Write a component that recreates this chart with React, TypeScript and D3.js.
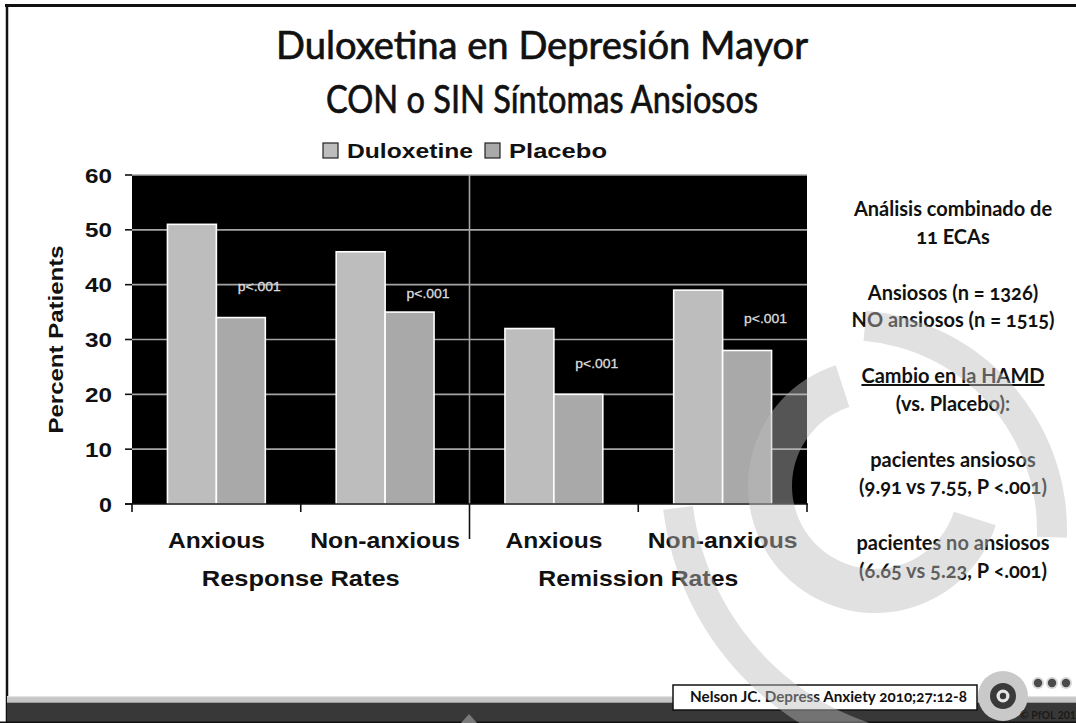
import React from 'react';
import * as d3 from 'd3';

// ---------- data ----------
const categories = ['Anxious', 'Non-anxious', 'Anxious', 'Non-anxious'];
const groupLabels = ['Response Rates', 'Remission Rates'];
const seriesNames = ['Duloxetine', 'Placebo'];
const duloxetine = [51, 46, 32, 39];
const placebo = [34, 35, 20, 28];
const pLabels = ['p<.001', 'p<.001', 'p<.001', 'p<.001'];
const pLabelValue = [38.8, 37.6, 24.8, 33.0];
const yTicks = [0, 10, 20, 30, 40, 50, 60];
const titleLines = ['Duloxetina en Depresión Mayor', 'CON o SIN Síntomas Ansiosos'];
const noteBlocks = [
  ['Análisis combinado de', '11 ECAs'],
  ['Ansiosos (n = 1326)', 'NO ansiosos (n = 1515)'],
  ['Cambio en la HAMD', '(vs. Placebo):'],
  ['pacientes ansiosos', '(9.91 vs 7.55, P <.001)'],
  ['pacientes no ansiosos', '(6.65 vs 5.23, P <.001)'],
];
const citation = 'Nelson JC. Depress Anxiety 2010;27:12-8';
const copyright = '© PfOL 201';

// ---------- styles ----------
const W = 1076;
const H = 723;
const plot = { left: 132, right: 807, top: 175, bottom: 504 };
const fills = ['#bdbdbd', '#a9a9a9'];
const chartFont = '"Liberation Sans", Arial, Helvetica, sans-serif';
const slideFont = 'Lato, "Open Sans", sans-serif';
const rad = (d: number) => (d * Math.PI) / 180;

export default function App() {
  const x = d3
    .scaleBand<number>()
    .domain(d3.range(categories.length))
    .range([plot.left, plot.right]);
  const sub = d3
    .scaleBand<string>()
    .domain(seriesNames)
    .range([0, x.bandwidth()])
    .paddingInner(0)
    .paddingOuter(0.7245);
  const y = d3.scaleLinear().domain([0, 60]).range([plot.bottom, plot.top]);
  const series = [duloxetine, placebo];

  const arcGen = d3.arc<any>();
  const innerC = arcGen({ innerRadius: 83, outerRadius: 127, startAngle: rad(108), endAngle: rad(342) }) as string;
  const outerA = arcGen({ innerRadius: 190, outerRadius: 220, startAngle: rad(5), endAngle: rad(92) }) as string;
  const outerB = arcGen({ innerRadius: 263, outerRadius: 293, startAngle: rad(185), endAngle: rad(263) }) as string;

  const boundaries = d3.range(categories.length + 1).map((i) =>
    i < categories.length ? (x(i) as number) : plot.right
  );
  const mid = boundaries[2];
  const pX = (i: number) => (x(i) as number) + (sub('Placebo') as number) + sub.bandwidth() - 6;

  return (
    <svg
      width={W}
      height={H}
      viewBox={`0 0 ${W} ${H}`}
      style={{ position: 'absolute', left: 0, top: 0, display: 'block', background: '#fff' }}
    >
      {/* slide frame */}
      <rect x={0} y={0} width={W} height={H} fill="#fff" />
      <line x1={5} x2={W} y1={5.5} y2={5.5} stroke="#111" strokeWidth={3} />
      <line x1={7} x2={7} y1={4} y2={H} stroke="#111" strokeWidth={2.5} />

      {/* title */}
      {titleLines.map((t, i) => (
        <text
          key={i}
          x={542}
          y={59 + i * 54}
          textAnchor="middle"
          fontFamily={slideFont}
          fontSize={38}
          fill="#111"
          stroke="#111"
          strokeWidth={0.7}
          textLength={[532, 432][i]}
          lengthAdjust="spacingAndGlyphs"
        >
          {t}
        </text>
      ))}

      {/* legend */}
      {seriesNames.map((s, i) => {
        const lx = [323, 485][i];
        return (
          <g key={s}>
            <rect x={lx} y={143} width={15} height={15} fill={fills[i]} stroke="#222" strokeWidth={1.2} />
            <text
              x={lx + 24}
              y={157.5}
              fontFamily={chartFont}
              fontWeight="bold"
              fontSize={20.5}
              fill="#111"
              textLength={[126, 98][i]}
              lengthAdjust="spacingAndGlyphs"
            >
              {s}
            </text>
          </g>
        );
      })}

      {/* plot background */}
      <rect x={plot.left} y={plot.top} width={plot.right - plot.left} height={plot.bottom - plot.top} fill="#000" />

      {/* gridlines */}
      {yTicks.filter((t) => t > 0).map((t) => (
        <line key={t} x1={plot.left} x2={plot.right} y1={y(t)} y2={y(t)} stroke="#a4a4a4" strokeWidth={1.6} />
      ))}
      <line x1={mid} x2={mid} y1={plot.top} y2={plot.bottom} stroke="#a4a4a4" strokeWidth={1.6} />

      {/* bars */}
      {categories.map((c, i) =>
        seriesNames.map((s, j) => {
          const v = series[j][i];
          return (
            <rect
              key={`${i}-${j}`}
              x={(x(i) as number) + (sub(s) as number)}
              y={y(v)}
              width={sub.bandwidth()}
              height={y(0) - y(v)}
              fill={fills[j]}
              stroke="#fff"
              strokeWidth={1.6}
            />
          );
        })
      )}

      {/* p labels */}
      {pLabels.map((p, i) => (
        <text
          key={i}
          x={pX(i)}
          y={y(pLabelValue[i])}
          textAnchor="middle"
          fontFamily={chartFont}
          fontSize={13.5}
          fill="#dcdcdc"
          stroke="#dcdcdc"
          strokeWidth={0.3}
          textLength={43}
          lengthAdjust="spacingAndGlyphs"
        >
          {p}
        </text>
      ))}

      {/* axes */}
      <line x1={125} x2={plot.right + 1} y1={plot.bottom} y2={plot.bottom} stroke="#111" strokeWidth={1.6} />
      {yTicks.map((t) => (
        <g key={t}>
          <line x1={125} x2={plot.left} y1={y(t)} y2={y(t)} stroke="#111" strokeWidth={1.6} />
          <text
            x={112}
            y={y(t) + 7.5}
            textAnchor="end"
            fontFamily={chartFont}
            fontWeight="bold"
            fontSize={21}
            fill="#111"
            textLength={t === 0 ? 13 : 27}
            lengthAdjust="spacingAndGlyphs"
          >
            {t}
          </text>
        </g>
      ))}
      {boundaries.map((bx, i) => (
        <line
          key={i}
          x1={bx}
          x2={bx}
          y1={plot.bottom}
          y2={i === 2 ? 539 : 512}
          stroke="#111"
          strokeWidth={1.6}
        />
      ))}

      {/* category labels */}
      {categories.map((c, i) => (
        <text
          key={i}
          x={(x(i) as number) + x.bandwidth() / 2}
          y={548}
          textAnchor="middle"
          fontFamily={chartFont}
          fontWeight="bold"
          fontSize={22.5}
          fill="#111"
          textLength={c === 'Anxious' ? 97 : 150}
          lengthAdjust="spacingAndGlyphs"
        >
          {c}
        </text>
      ))}
      {groupLabels.map((g, k) => (
        <text
          key={g}
          x={(boundaries[k * 2] + boundaries[k * 2 + 2]) / 2}
          y={586}
          textAnchor="middle"
          fontFamily={chartFont}
          fontWeight="bold"
          fontSize={22.5}
          fill="#111"
          textLength={[198, 200][k]}
          lengthAdjust="spacingAndGlyphs"
        >
          {g}
        </text>
      ))}

      {/* y title */}
      <text
        transform={`translate(63,${(plot.top + plot.bottom) / 2}) rotate(-90)`}
        textAnchor="middle"
        fontFamily={chartFont}
        fontWeight="bold"
        fontSize={21}
        fill="#111"
        textLength={188}
        lengthAdjust="spacingAndGlyphs"
      >
        Percent Patients
      </text>

      {/* side notes */}
      {noteBlocks.map((block, b) =>
        block.map((line, l) => (
          <text
            key={`${b}-${l}`}
            x={953}
            y={216 + b * 83.5 + l * 27.5}
            textAnchor="middle"
            fontFamily={slideFont}
            fontWeight="bold"
            fontSize={20}
            fill="#111"
            style={{
              fontVariantNumeric: 'oldstyle-nums',
              textDecoration: b === 2 && l === 0 ? 'underline' : 'none',
            }}
          >
            {line}
          </text>
        ))
      )}

      {/* bottom bar */}
      <rect x={7} y={696} width={W} height={7} fill="#c6c6c6" />
      <rect x={7} y={696} width={W} height={1.2} fill="#e2e2e2" />
      <rect x={7} y={702} width={W} height={1.2} fill="#9a9a9a" />
      <rect x={7} y={703} width={W} height={19} fill="#383838" />
      <rect x={0} y={721.5} width={W} height={1.5} fill="#111" />
      <path d="M461,723 L469,714 L477,723 Z" fill="#7a7a7a" />

      {/* citation */}
      <rect x={673} y={685} width={304} height={25} fill="#fff" stroke="#111" strokeWidth={1.5} />
      <text
        x={690}
        y={701.5}
        fontFamily={slideFont}
        fontWeight="bold"
        fontSize={15}
        fill="#111"
        textLength={277}
        lengthAdjust="spacingAndGlyphs"
        style={{ fontVariantNumeric: 'oldstyle-nums' }}
      >
        {citation}
      </text>

      {/* decorative ring overlay */}
      <g fill="#bdbdbd" fillOpacity={0.45}>
        <path d={innerC} transform="translate(875,486)" />
        <path d={outerA} transform="translate(847,530)" />
        <path d={outerB} transform="translate(954,474)" />
      </g>

      {/* logo */}
      <circle cx={1003} cy={696} r={25} fill="#c9c9c9" />
      <circle cx={1003} cy={696} r={13} fill="#3a3a3a" />
      <circle cx={1003} cy={696} r={6.5} fill="#e6e6e6" />
      <circle cx={1003} cy={696} r={3.2} fill="#3a3a3a" />
      {[1038, 1052, 1066].map((dx) => (
        <g key={dx}>
          <circle cx={dx} cy={683} r={6} fill="#d6d6d6" />
          <circle cx={dx} cy={683} r={4.2} fill="#4a4a4a" />
        </g>
      ))}
      <text x={1020} y={719} fontFamily={slideFont} fontSize={10.5} fill="#1a1a1a" fontWeight="bold">
        {copyright}
      </text>
    </svg>
  );
}
